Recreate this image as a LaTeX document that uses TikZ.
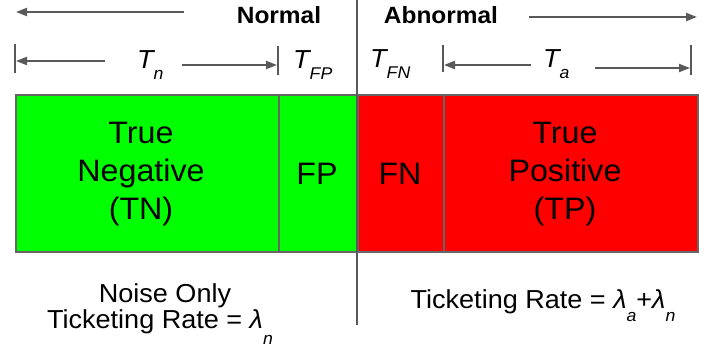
\documentclass[tikz,border=0pt]{standalone}
\usepackage{fontspec}
\setmainfont{Liberation Sans}[FakeStretch=1.04]
\usetikzlibrary{arrows.meta}
\definecolor{linegray}{HTML}{595959}
\definecolor{boxgray}{HTML}{666666}
\definecolor{tngreen}{HTML}{00FF00}
\definecolor{tpred}{HTML}{FF0000}
\newcommand\subtxt[2]{\raisebox{-#1pt}{\fontsize{17}{17}\selectfont\itshape #2}}
\newcommand\Tlab[1]{{\fontsize{26}{26}\selectfont\itshape T}\subtxt{11}{#1}}
\begin{document}
\begin{tikzpicture}[x=1pt,y=-1pt,
  arr/.style={draw=linegray, line width=2pt, -{Triangle[length=11pt,width=8pt]}},
  barline/.style={draw=linegray, line width=1.5pt},
  divider/.style={draw=linegray, line width=2.5pt},
  box/.style={draw=boxgray, line width=1.5pt, anchor=north west, minimum height=157pt, inner sep=0pt},
  boxtext/.style={align=center, font=\fontsize{31}{38}\selectfont, inner sep=0pt},
  toptext/.style={font=\bfseries\fontsize{23.5}{24}\selectfont, anchor=base, inner sep=0pt},
  lab/.style={anchor=base west, inner sep=0pt},
  bottext/.style={font=\fontsize{26}{26}\selectfont, anchor=base, inner sep=0pt}]
\useasboundingbox (0,0) rectangle (718,349);
% boxes
\node[box, fill=tngreen, minimum width=263pt] (tn) at (15,94) {};
\node[box, fill=tngreen, minimum width=79pt] (fp) at (278,94) {};
\node[box, fill=tpred, minimum width=86pt] (fn) at (357,94) {};
\node[box, fill=tpred, minimum width=254pt] (tp) at (443,94) {};
\node[boxtext] (tnt) at (141,174) {True\\Negative\\(TN)};
\node[boxtext] (fpt) at (317,174) {FP};
\node[boxtext] (fnt) at (400,174) {FN};
\node[boxtext] (tpt) at (565,174) {True\\Positive\\(TP)};
% divider
\coordinate (dtop) at (357,0);
\coordinate (dbot) at (357,325);
\draw[divider] (dtop) -- (dbot);
% top row
\node[toptext] (normal) at (279,23) {Normal};
\node[toptext] (abnormal) at (441,23) {Abnormal};
\coordinate (nl1) at (184,12); \coordinate (nl2) at (16,12);
\draw[arr] (nl1) -- (nl2);
\coordinate (ar1) at (529,17); \coordinate (ar2) at (697,17);
\draw[arr] (ar1) -- (ar2);
% second row bars
\coordinate (b1t) at (15,44); \coordinate (b1b) at (15,73);
\coordinate (b2t) at (278,46); \coordinate (b2b) at (278,75);
\coordinate (b3t) at (443,45); \coordinate (b3b) at (443,72);
\coordinate (b4t) at (691,45); \coordinate (b4b) at (691,75);
\draw[barline] (b1t) -- (b1b);
\draw[barline] (b2t) -- (b2b);
\draw[barline] (b3t) -- (b3b);
\draw[barline] (b4t) -- (b4b);
% second row arrows
\coordinate (tn1) at (105,61); \coordinate (tn2) at (16,61);
\coordinate (tn3) at (182,65); \coordinate (tn4) at (277,65);
\coordinate (ta1) at (531,65); \coordinate (ta2) at (444,65);
\coordinate (ta3) at (595,68); \coordinate (ta4) at (690,68);
\draw[arr] (tn1) -- (tn2);
\draw[arr] (tn3) -- (tn4);
\draw[arr] (ta1) -- (ta2);
\draw[arr] (ta3) -- (ta4);
% labels
\node[lab] (tnl) at (137,68) {\Tlab{n}};
\node[lab] (tfpl) at (293,68) {\Tlab{FP}};
\node[lab] (tfnl) at (370,67) {\Tlab{FN}};
\node[lab] (tal) at (543,67) {\Tlab{a}};
% bottom
\node[bottext] (noise) at (165,302) {Noise Only};
\node[bottext] (ratel) at (160,328) {Ticketing Rate = \textit{λ}\subtxt{16}{n}};
\node[bottext] (rater) at (543,308) {Ticketing Rate = \textit{λ}\subtxt{13}{a}+\textit{λ}\subtxt{13}{n}};
\end{tikzpicture}
\end{document}
